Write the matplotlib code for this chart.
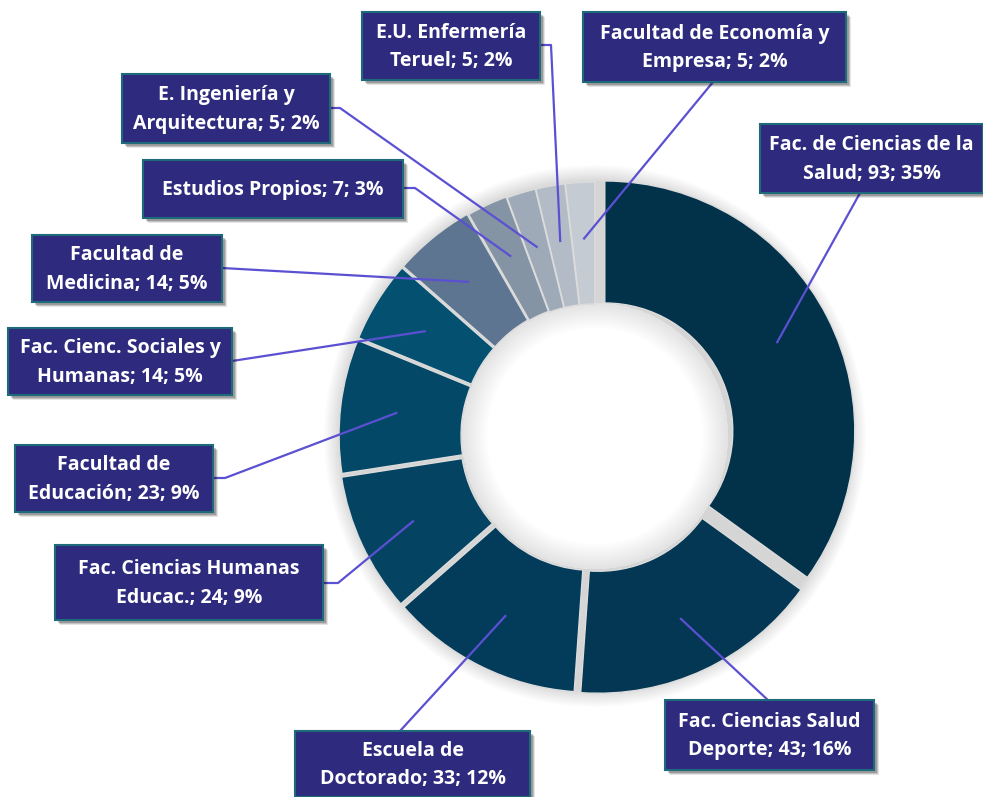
import matplotlib
matplotlib.use("Agg")
import matplotlib.pyplot as plt
import numpy as np
from matplotlib.patches import Rectangle, Wedge

W, H = 983, 797

labels = ["Fac. de Ciencias de la\nSalud", "Fac. Ciencias Salud\nDeporte", "Escuela de\nDoctorado",
          "Fac. Ciencias Humanas\nEducac.", "Facultad de\nEducación", "Fac. Cienc. Sociales y\nHumanas",
          "Facultad de\nMedicina", "Estudios Propios", "E. Ingeniería y\nArquitectura",
          "E.U. Enfermería\nTeruel", "Facultad de Economía y\nEmpresa"]
values = [93, 43, 33, 24, 23, 14, 14, 7, 5, 5, 5]
colors = ["#02314a", "#033753", "#033c5a", "#044362", "#044868", "#045070",
          "#5d7590", "#8494a5", "#9eaab7", "#b3bcc6", "#c5cbd3"]

# box layout in image pixels: left, top, right, bottom
boxes = [
    (760, 124, 983, 193), (665, 700, 874, 770), (295, 731, 530, 797),
    (55, 545, 323, 620), (15, 445, 213, 512), (8, 328, 232, 395),
    (32, 235, 222, 302), (143, 160, 403, 218), (122, 74, 330, 143),
    (362, 12, 540, 80), (583, 12, 846, 82),
]
# leader start points (image px), optional elbow
leaders = [
    [(860, 193)], [(770, 702)], [(400, 731)],
    [(323, 583), (338, 583)], [(213, 478), (225, 478)], [(232, 361)],
    [(222, 268)], [(403, 188), (415, 188)], [(330, 108), (340, 108)],
    [(540, 45), (551, 45)], [(713, 82)],
]
explode = [11, 8, 7, 7, 6, 6, 6, 5, 4, 4, 4]

fig = plt.figure(figsize=(W / 100, H / 100), dpi=100)
ax = fig.add_axes([0, 0, 1, 1])

cx, cy_img = 595, 436
cy = H - cy_img
R, width = 250, 122
rin = R - width

# soft shadows
for i in range(14):
    ax.add_patch(Wedge((cx, cy), R + 4 + i * 1.3, 0, 360, width=i * 1.3 + 2,
                       color="#000000", alpha=0.012, lw=0, zorder=0))
    ax.add_patch(Wedge((cx, cy), rin + 5, 0, 360, width=i * 1.8 + 2,
                       color="#000000", alpha=0.009, lw=0, zorder=0))
# gap fill
ax.add_patch(Wedge((cx, cy), R + 3, 0, 360, width=width - 2, color="#d5d5d5", lw=0, zorder=1))

wedges, _ = ax.pie(values, colors=colors, startangle=90, counterclock=False,
                   center=(cx, cy), radius=R, explode=explode,
                   wedgeprops=dict(width=width, edgecolor="#dcdcdc", linewidth=1.0))
for w in wedges:
    w.set_zorder(2)

total = sum(values)
for i, (lab, v) in enumerate(zip(labels, values)):
    w = wedges[i]
    mid = np.deg2rad((w.theta1 + w.theta2) / 2)
    rm = rin + width / 2 + 4
    ex, ey = w.center[0] + rm * np.cos(mid), w.center[1] + rm * np.sin(mid)
    pts = [(x, H - y) for x, y in leaders[i]] + [(ex, ey)]
    xs, ys = zip(*pts)
    ax.plot(xs, ys, color="#5b50d2", lw=1.6, zorder=5, solid_capstyle="butt")

    l, t, r, b = boxes[i]
    for k, (dx, a) in enumerate([(5, 0.10), (4, 0.15), (3, 0.2)]):
        ax.add_patch(Rectangle((l + dx, H - b - dx), r - l, b - t, color="#000000",
                               alpha=a, lw=0, zorder=6))
    ax.add_patch(Rectangle((l, H - b), r - l, b - t, facecolor="#2e2a7e",
                           edgecolor="#1f6a7a", lw=1.5, zorder=7))
    pct = round(v / total * 100)
    txt = f"{lab}; {v}; {pct}%"
    ax.text((l + r) / 2, H - (t + b) / 2 - 1, txt, ha="center", va="center",
            color="white", fontsize=14, fontweight="bold", family=["Open Sans", "DejaVu Sans"],
            linespacing=1.55, zorder=8)

ax.set_xlim(0, W)
ax.set_ylim(0, H)
ax.set_aspect("equal")
ax.axis("off")
fig.savefig("out.png", dpi=100, facecolor="white")
